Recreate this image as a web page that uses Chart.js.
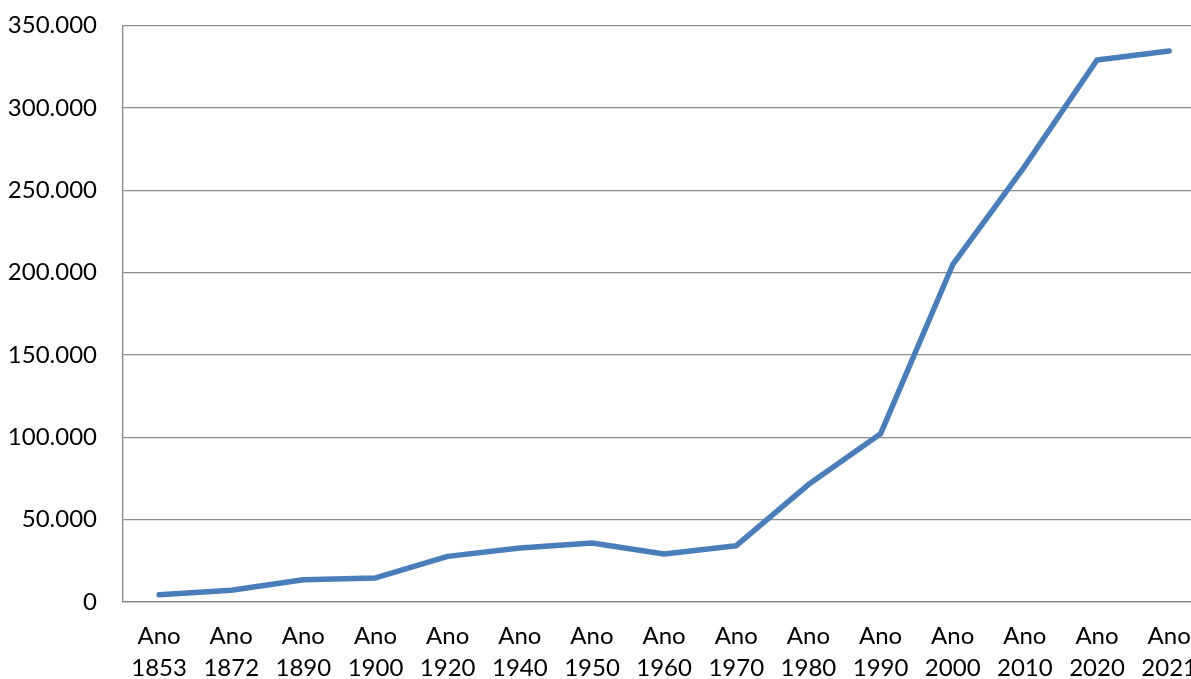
<!DOCTYPE html>
<html>
<head>
<meta charset="utf-8">
<script src="https://cdn.jsdelivr.net/npm/chart.js@4/dist/chart.umd.min.js"></script>
<style>
  html, body { margin: 0; padding: 0; background: #fff; overflow: hidden; width: 1191px; height: 679px; }
  #wrap { width: 1216px; height: 695px; margin-top: -16px; }
</style>
</head>
<body>
<div id="wrap"><canvas id="c" width="1216" height="695"></canvas></div>
<script>
// Population by census year
const anos = ['1853', '1872', '1890', '1900', '1920', '1940', '1950', '1960', '1970', '1980', '1990', '2000', '2010', '2020', '2021'];
const populacao = [4400, 7100, 13500, 14600, 27700, 32800, 35800, 29200, 34200, 71300, 102100, 204800, 264700, 329100, 334600];
const yMax = 350000;
const yStep = 50000;

const rotulos = anos.map(a => ['Ano', a]);

function milhar(v) {
  return String(v).replace(/\B(?=(\d{3})+(?!\d))/g, '.');
}

const fonte = { family: 'Lato, "Open Sans", sans-serif', size: 24, lineHeight: 1.3 };

new Chart(document.getElementById('c'), {
  type: 'line',
  data: {
    labels: rotulos,
    datasets: [{
      data: populacao,
      borderColor: '#4A7EBB',
      borderWidth: 5.5,
      borderCapStyle: 'round',
      borderJoinStyle: 'round',
      pointRadius: 0,
      tension: 0,
      fill: false
    }]
  },
  options: {
    responsive: false,
    animation: false,
    layout: { padding: { top: 10, left: 0, right: 0, bottom: 0 } },
    plugins: { legend: { display: false }, tooltip: { enabled: false } },
    scales: {
      x: {
        offset: true,
        grid: { display: false, drawTicks: false },
        border: { display: true, color: '#868686', width: 1.3 },
        ticks: { color: '#000', font: fonte, padding: 19, maxRotation: 0, autoSkip: false },
        afterFit: s => { s.height = 77; }
      },
      y: {
        min: 0,
        max: yMax,
        grid: { color: '#8c8c8c', lineWidth: 1.3, drawTicks: false },
        border: { display: true, color: '#868686', width: 1.3 },
        ticks: { stepSize: yStep, color: '#000', font: fonte, padding: 26, callback: v => milhar(v) },
        afterFit: s => { s.width = 123; }
      }
    }
  }
});
</script>
</body>
</html>
